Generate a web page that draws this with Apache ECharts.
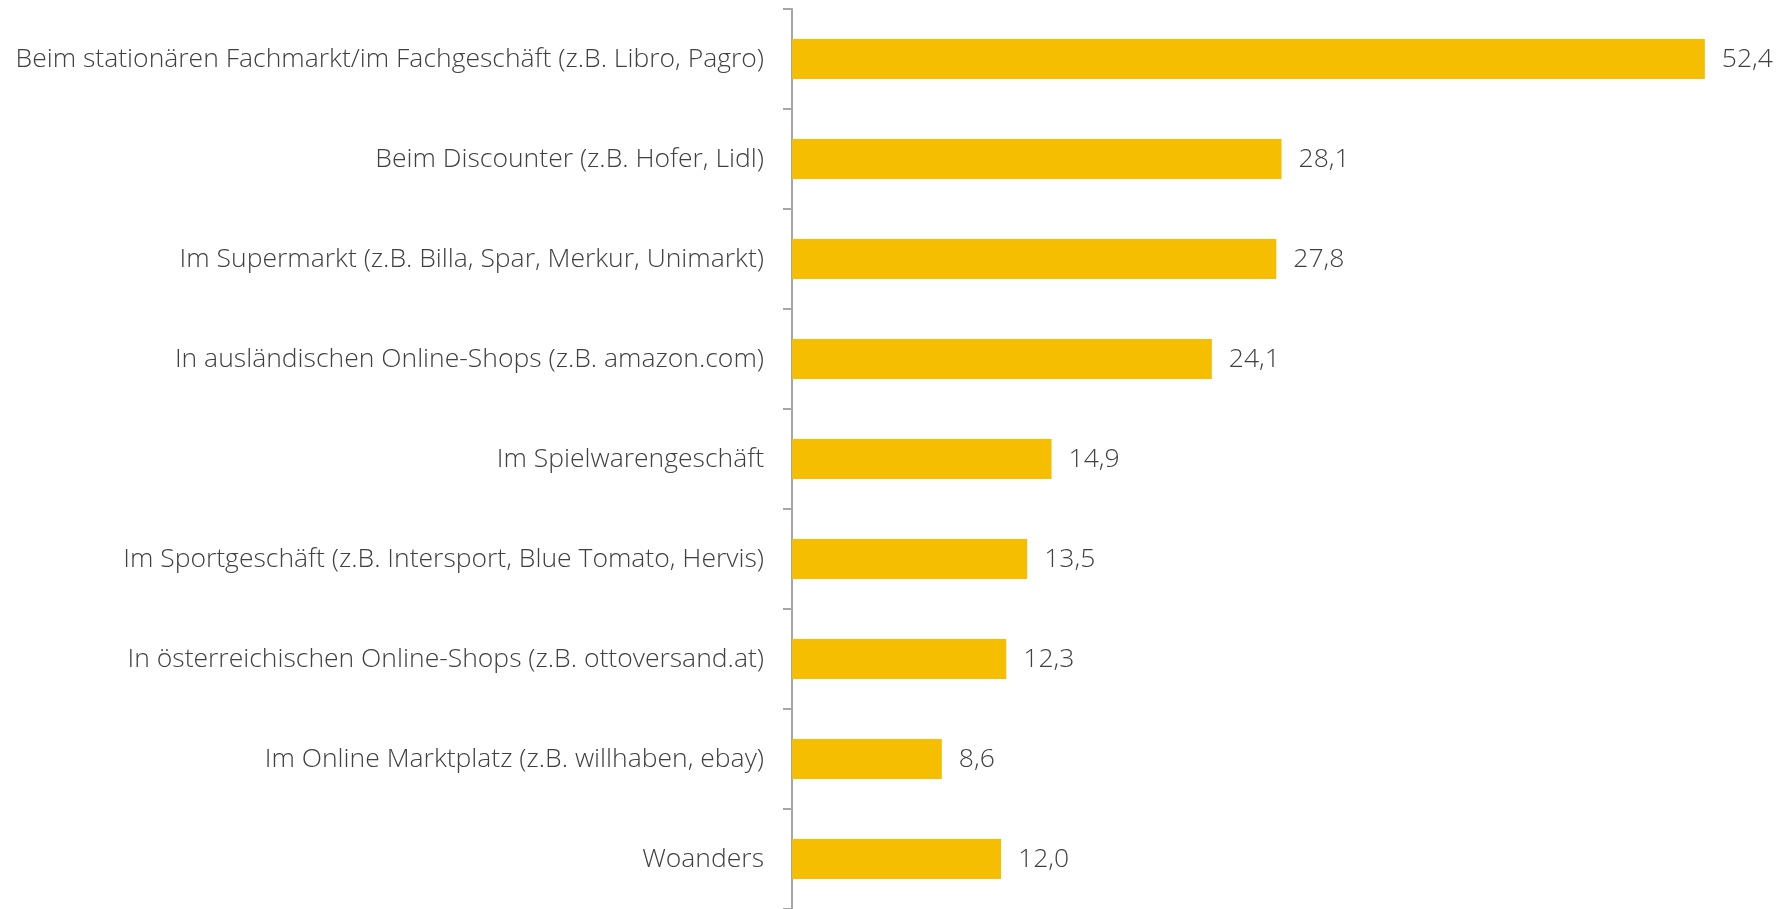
<!DOCTYPE html>
<html>
<head>
<meta charset="utf-8">
<script src="https://cdn.jsdelivr.net/npm/echarts@6/dist/echarts.min.js"></script>
<style>
  html, body { margin: 0; padding: 0; background: #fff; }
  #chart { width: 1787px; height: 909px; }
</style>
</head>
<body>
<div id="chart"></div>
<script>
var categories = [
    'Beim stationären Fachmarkt/im Fachgeschäft (z.B. Libro, Pagro)',
    'Beim Discounter (z.B. Hofer, Lidl)',
    'Im Supermarkt (z.B. Billa, Spar, Merkur, Unimarkt)',
    'In ausländischen Online-Shops (z.B. amazon.com)',
    'Im Spielwarengeschäft',
    'Im Sportgeschäft (z.B. Intersport, Blue Tomato, Hervis)',
    'In österreichischen Online-Shops (z.B. ottoversand.at)',
    'Im Online Marktplatz (z.B. willhaben, ebay)',
    'Woanders'
];
var values = [52.4, 28.1, 27.8, 24.1, 14.9, 13.5, 12.3, 8.6, 12.0];

var font = '"Open Sans", sans-serif';
var myChart = echarts.init(document.getElementById('chart'));
myChart.setOption({
    animation: false,
    grid: { left: 792, right: 2, top: 9, bottom: 0, containLabel: false },
    xAxis: {
        type: 'value',
        min: 0,
        max: 57,
        show: false
    },
    yAxis: {
        type: 'category',
        inverse: true,
        data: categories,
        axisLine: { show: true, lineStyle: { color: '#a6a6a6', width: 2 } },
        axisTick: { show: true, length: 9, lineStyle: { color: '#a6a6a6', width: 2 } },
        axisLabel: {
            margin: 28,
            color: '#404040',
            fontFamily: font,
            fontWeight: 300,
            fontSize: 26.5,
            padding: [4, 0, 0, 0]
        },
        splitLine: { show: false }
    },
    series: [{
        type: 'bar',
        data: values,
        barWidth: '40%',
        itemStyle: { color: '#F5BE00' },
        label: {
            show: true,
            position: 'right',
            distance: 17,
            color: '#404040',
            fontFamily: font,
            fontWeight: 300,
            fontSize: 26.5,
            padding: [4, 0, 0, 0],
            formatter: function (p) { return p.value.toFixed(1).replace('.', ','); }
        }
    }]
});
</script>
</body>
</html>
